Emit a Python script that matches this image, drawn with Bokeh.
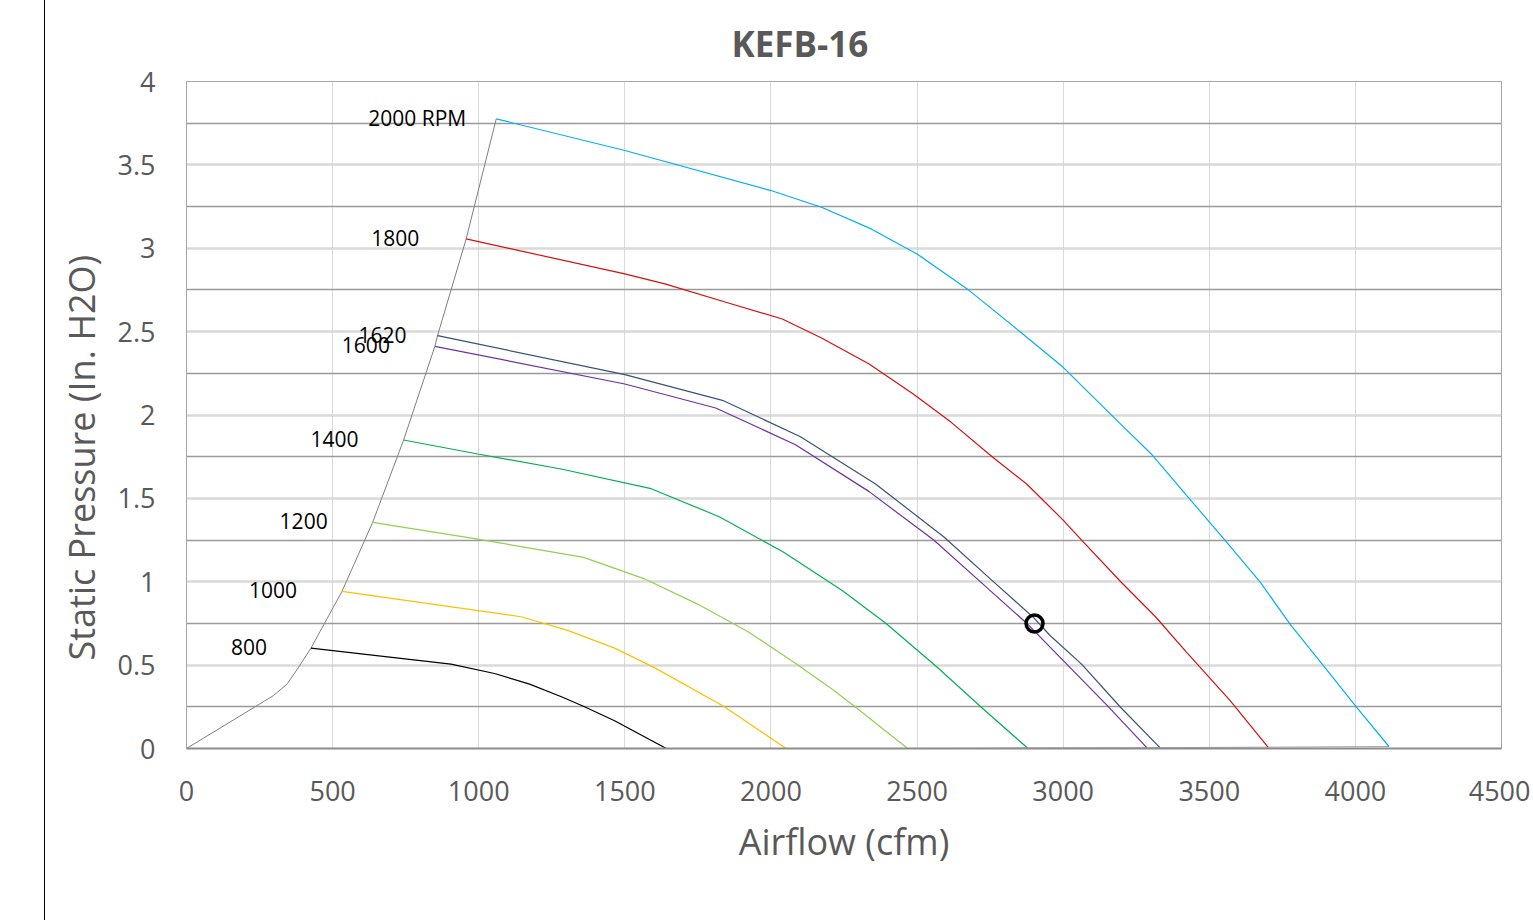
from bokeh.plotting import figure
from bokeh.models import (Range1d, SingleIntervalTicker, CustomJSTickFormatter,
                          Title, ColumnDataSource)
from bokeh.core.properties import value
from bokeh.embed import file_html
from bokeh.resources import INLINE

# ---------------- data ----------------
chart_title = "KEFB-16"
x_title = "Airflow (cfm)"
y_title = "Static Pressure (In. H2O)"

rpm_names = ["800", "1000", "1200", "1400", "1600", "1620", "1800", "2000 RPM"]

cfm_800 = [426, 905, 1054, 1174, 1283, 1362, 1465, 1642]
sp_800 = [0.602, 0.506, 0.45, 0.386, 0.31, 0.25, 0.166, 0.0]

cfm_1000 = [532, 1145, 1302, 1465, 1598, 1835, 2052]
sp_1000 = [0.942, 0.79, 0.71, 0.602, 0.488, 0.256, 0.0]

cfm_1200 = [637, 997, 1359, 1565, 1749, 1920, 2080, 2217, 2291, 2468]
sp_1200 = [1.356, 1.256, 1.146, 1.019, 0.866, 0.702, 0.516, 0.346, 0.246, 0.0]

cfm_1400 = [743, 997, 1282, 1590, 1823, 2045, 2245, 2394, 2570, 2718, 2878]
sp_1400 = [1.85, 1.766, 1.676, 1.558, 1.39, 1.176, 0.946, 0.75, 0.486, 0.25, 0.003]

cfm_1600 = [850, 1500, 1811, 2084, 2335, 2557, 2719, 2876, 2956, 3152, 3286]
sp_1600 = [2.412, 2.186, 2.042, 1.822, 1.542, 1.25, 0.996, 0.75, 0.606, 0.256, 0.005]

cfm_1620 = [859, 1500, 1834, 2101, 2358, 2591, 2764, 2899, 2956, 3063, 3197, 3331]
sp_1620 = [2.476, 2.242, 2.088, 1.87, 1.586, 1.27, 0.996, 0.785, 0.676, 0.506, 0.246, 0.005]

cfm_1800 = [957, 1500, 1637, 1846, 2039, 2173, 2336, 2487, 2617, 2757, 2875,
            3000, 3063, 3197, 3316, 3421, 3570, 3701]
sp_1800 = [3.056, 2.846, 2.786, 2.676, 2.576, 2.462, 2.306, 2.126, 1.956, 1.75,
           1.586, 1.37, 1.25, 1.0, 0.79, 0.58, 0.29, 0.008]

cfm_2000 = [1060, 1500, 2000, 2173, 2343, 2500, 2679, 2862, 3000, 3188, 3305,
            3436, 3555, 3675, 3779, 3898, 4003, 4115]
sp_2000 = [3.776, 3.586, 3.346, 3.246, 3.116, 2.966, 2.746, 2.486, 2.286, 1.96,
           1.76, 1.49, 1.246, 0.996, 0.74, 0.48, 0.25, 0.012]

# system (max-pressure) curve
sys_cfm = [0, 242, 298, 345, 384, 426, 532, 637, 743, 850, 859, 957, 1060]
sys_sp = [0, 0.258, 0.318, 0.388, 0.488, 0.602, 0.942, 1.356, 1.85, 2.412, 2.476, 3.056, 3.776]

# free-delivery (zero pressure) line
zero_cfm = [1642, 2052, 2468, 2878, 3286, 3331, 3701, 4115]
zero_sp = [0.0, 0.0, 0.0, 0.003, 0.005, 0.005, 0.008, 0.012]

# operating point
op_cfm = [2902]
op_sp = [0.75]

x_ticks_max = 4500
y_ticks_max = 4

# ---------------- styling ----------------
series_cfm = [cfm_800, cfm_1000, cfm_1200, cfm_1400, cfm_1600, cfm_1620, cfm_1800, cfm_2000]
series_sp = [sp_800, sp_1000, sp_1200, sp_1400, sp_1600, sp_1620, sp_1800, sp_2000]
colors = ["#000000", "#ffc000", "#92d050", "#00b050", "#7030a0", "#3c5078", "#d41010", "#00b0f0"]
label_dx = [-44, -45, -45, -45, -45, -31, -47, -30]

FONT = "Open Sans"
GRAY_TXT = "#595959"

p = figure(width=1486, height=920,
           x_range=Range1d(0, x_ticks_max), y_range=Range1d(0, y_ticks_max),
           output_backend="svg", toolbar_location=None,
           min_border_left=141, min_border_right=30,
           min_border_top=81, min_border_bottom=172)
p.styles = {"margin-left": "44px", "border-left": "1px solid #000000"}

p.add_layout(Title(text=chart_title, align="left", offset=545, standoff=30,
                   text_font=FONT, text_font_size="35px", text_font_style="bold",
                   text_color=GRAY_TXT), "above")
p.add_layout(Title(text=y_title, align="left", offset=88, standoff=17,
                   text_font=FONT, text_font_size="36px", text_font_style="normal",
                   text_color=GRAY_TXT), "left")

p.background_fill_color = "white"
p.border_fill_color = "white"
p.outline_line_color = "#a6a6a6"
p.outline_line_width = 1

# axes
p.xaxis.ticker = SingleIntervalTicker(interval=500)
p.yaxis.ticker = SingleIntervalTicker(interval=0.5, num_minor_ticks=2)
fmt = CustomJSTickFormatter(code="return String(Math.round(tick*100)/100);")
p.xaxis.formatter = fmt
p.yaxis.formatter = fmt
for ax in (p.xaxis, p.yaxis):
    ax.major_tick_line_color = None
    ax.minor_tick_line_color = None
    ax.major_label_text_font = FONT
    ax.major_label_text_font_size = "27px"
    ax.major_label_text_color = GRAY_TXT
    ax.axis_label_text_font = FONT
    ax.axis_label_text_font_size = "36px"
    ax.axis_label_text_font_style = "normal"
    ax.axis_label_text_color = GRAY_TXT
p.xaxis.axis_line_color = "#8c8c8c"
p.xaxis.axis_line_width = 2
p.yaxis.axis_line_color = "#a6a6a6"
p.yaxis.axis_line_width = 1
p.xaxis.axis_label = x_title
p.xaxis.major_label_standoff = 26
p.xaxis.axis_label_standoff = 13
p.yaxis.major_label_standoff = 25

# grid
p.xgrid.grid_line_color = "#d9d9d9"
p.xgrid.grid_line_width = 1
p.ygrid.grid_line_color = "#d9d9d9"
p.ygrid.grid_line_width = 1.5
p.ygrid.minor_grid_line_color = "#9a9a9a"
p.ygrid.minor_grid_line_width = 1.3

# zero line and system curve
p.line(zero_cfm, zero_sp, line_color="#a6a6a6", line_width=1)
p.line(sys_cfm, sys_sp, line_color="#7f7f7f", line_width=1)

# fan curves
for xs, ys, c in zip(series_cfm, series_sp, colors):
    p.line(xs, ys, line_color=c, line_width=1.2)

# curve labels anchored at each curve's first point
lab_src = ColumnDataSource(dict(
    x=[s[0] for s in series_cfm],
    y=[s[0] for s in series_sp],
    text=rpm_names,
    dx=label_dx,
))
p.text(x="x", y="y", text="text", x_offset="dx", y_offset=-1, source=lab_src,
       text_align="right", text_baseline="middle",
       text_font=value(FONT), text_font_size="21px", text_color="#000000")

# operating point
p.scatter(op_cfm, op_sp, marker="circle", size=17, fill_color=None,
          line_color="#000000", line_width=3.5)

open("out.html", "w").write(file_html(p, INLINE))
